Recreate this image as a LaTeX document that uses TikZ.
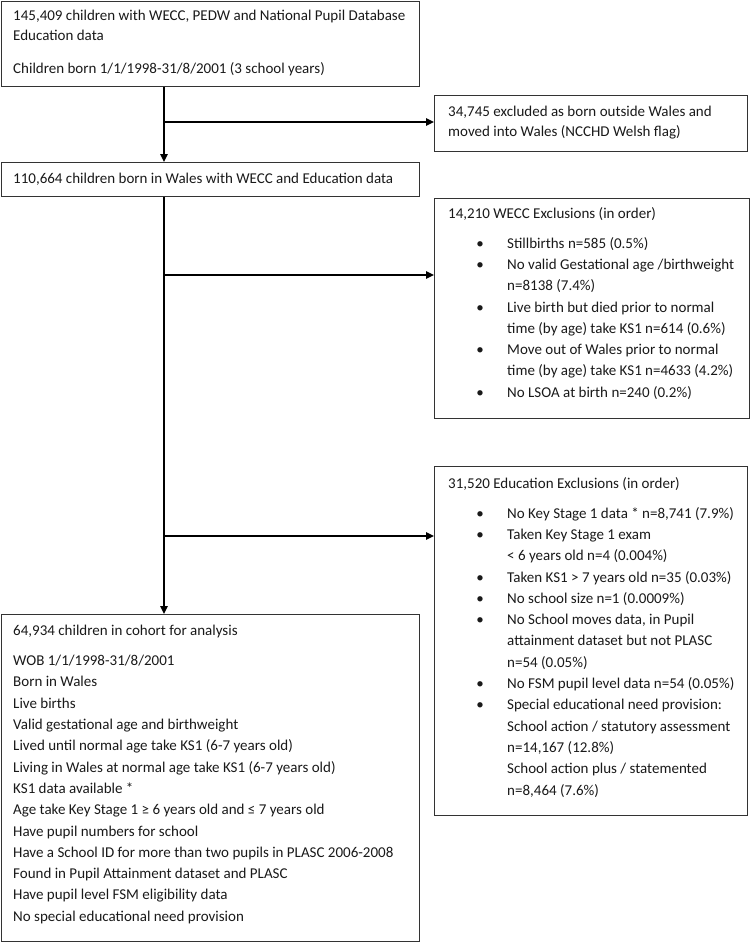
\documentclass[tikz,border=0pt]{standalone}
\usepackage{fontspec}
\setmainfont{Carlito}
\usetikzlibrary{arrows.meta}
\newcommand\bitem{\hspace*{29pt}\makebox[6pt]{\textbullet}\hspace*{24pt}}
\newcommand\bcont{\hspace*{59pt}}
\begin{document}
\begin{tikzpicture}[x=1pt,y=-1pt,
  box/.style={draw=black!80, line width=0.8pt, anchor=north west, inner sep=0pt},
  txt/.style={anchor=north west, inner sep=0pt, align=left, text=black!90,
    font=\fontsize{15}{21.3}\selectfont},
  conn/.style={line width=1.6pt, -{Triangle[length=8pt,width=7.5pt]}}]
\useasboundingbox (0,0) rectangle (750,942);
% boxes
\node[box, minimum width=418, minimum height=85] (b1) at (1,1) {};
\node[box, minimum width=313, minimum height=56] (b2) at (434,95) {};
\node[box, minimum width=418, minimum height=34] (b3) at (1,162) {};
\node[box, minimum width=315, minimum height=220] (b4) at (434,198) {};
\node[box, minimum width=313, minimum height=349] (b5) at (434,466) {};
\node[box, minimum width=418, minimum height=327] (b6) at (1,614) {};
% texts
\node[txt] (t1) at (13,10) {145,409 children with WECC, PEDW and National Pupil Database\\[-1.3pt]
Education data\\[11.7pt]
Children born 1/1/1998-31/8/2001 (3 school years)};
\node[txt] (t2) at (448,106) {34,745 excluded as born outside Wales and\\[-1.3pt]
moved into Wales (NCCHD Welsh flag)};
\node[txt] (t3) at (13,173) {110,664 children born in Wales with WECC and Education data};
\node[txt] (t4) at (448,207) {14,210 WECC Exclusions (in order)\\[8.7pt]
\bitem Stillbirths n=585 (0.5\%)\\
\bitem No valid Gestational age /birthweight\\
\bcont n=8138 (7.4\%)\\
\bitem Live birth but died prior to normal\\
\bcont time (by age) take KS1 n=614 (0.6\%)\\
\bitem Move out of Wales prior to normal\\
\bcont time (by age) take KS1 n=4633 (4.2\%)\\
\bitem No LSOA at birth n=240 (0.2\%)};
\node[txt] (t5) at (448,477) {31,520 Education Exclusions (in order)\\[8.7pt]
\bitem No Key Stage 1 data * n=8,741 (7.9\%)\\
\bitem Taken Key Stage 1 exam\\
\bcont < 6 years old n=4 (0.004\%)\\
\bitem Taken KS1 > 7 years old n=35 (0.03\%)\\
\bitem No school size n=1 (0.0009\%)\\
\bitem No School moves data, in Pupil\\
\bcont attainment dataset but not PLASC\\
\bcont n=54 (0.05\%)\\
\bitem No FSM pupil level data n=54 (0.05\%)\\
\bitem Special educational need provision:\\
\bcont School action / statutory assessment\\
\bcont n=14,167 (12.8\%)\\
\bcont School action plus / statemented\\
\bcont n=8,464 (7.6\%)};
\node[txt] (t6) at (13,625) {64,934 children in cohort for analysis\\[8.7pt]
WOB 1/1/1998-31/8/2001\\
Born in Wales\\
Live births\\
Valid gestational age and birthweight\\
Lived until normal age take KS1 (6-7 years old)\\
Living in Wales at normal age take KS1 (6-7 years old)\\
KS1 data available *\\
Age take Key Stage 1 ≥ 6 years old and ≤ 7 years old\\
Have pupil numbers for school\\
Have a School ID for more than two pupils in PLASC 2006-2008\\
Found in Pupil Attainment dataset and PLASC\\
Have pupil level FSM eligibility data\\
No special educational need provision};
% connectors
\coordinate (j1) at (164,122);
\coordinate (j2) at (164,275);
\coordinate (j3) at (164,536);
\draw[conn] (j1 |- b1.south) -- (j1 |- b3.north);
\draw[conn] (j1) -- (j1 -| b2.west);
\draw[conn] (j2 |- b3.south) -- (j2 |- b6.north);
\draw[conn] (j2) -- (j2 -| b4.west);
\draw[conn] (j3) -- (j3 -| b5.west);
\end{tikzpicture}
\end{document}
